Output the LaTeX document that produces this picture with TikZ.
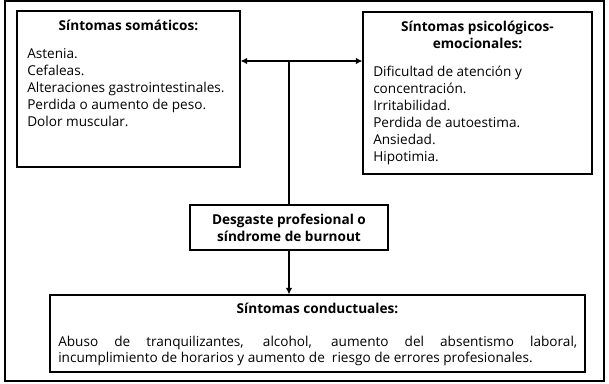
\documentclass[tikz,border=0pt]{standalone}
\usepackage{fontspec}
\setmainfont{Open Sans}
\usetikzlibrary{arrows.meta}
\begin{document}
\begin{tikzpicture}[x=0.75pt,y=-0.75pt,
  box/.style={draw,line width=0.8pt,inner sep=0pt},
  txt/.style={inner sep=0pt,font=\fontsize{10.2}{12.8}\selectfont},
  ttl/.style={inner sep=0pt,font=\fontsize{10.2}{12.8}\selectfont\bfseries,align=center},
  conn/.style={line width=1.5pt},
  tip/.style={-{Latex[length=5pt,width=5pt]}}]
\useasboundingbox (0,0) rectangle (609,384);
\node[box,minimum width=599pt*0.75,minimum height=380pt*0.75] (frame) at (304.5,191) {};
\node[box,minimum width=223pt*0.75,minimum height=156pt*0.75] (L) at (128.5,89) {};
\node[box,minimum width=229pt*0.75,minimum height=162pt*0.75] (R) at (477.5,93) {};
\node[box,minimum width=198pt*0.75,minimum height=45pt*0.75] (C) at (289,227.5) {};
\node[box,minimum width=535pt*0.75,minimum height=77pt*0.75] (B) at (317.5,333.5) {};
% texts
\node[ttl] (Lt) at (128.5,25) {Síntomas somáticos:};
\node[txt,anchor=north west,align=left] (Lx) at (27,48) {Astenia.\\Cefaleas.\\Alteraciones gastrointestinales.\\Perdida o aumento de peso.\\Dolor muscular.};
\node[ttl] (Rt) at (477.5,34.5) {Síntomas psicológicos-\\emocionales:};
\node[txt,anchor=north west,align=left] (Rx) at (373,65.5) {Dificultad de atención y\\concentración.\\Irritabilidad.\\Perdida de autoestima.\\Ansiedad.\\Hipotimia.};
\node[ttl] (Ct) at (289,227.5) {Desgaste profesional o\\síndrome de burnout};
\node[ttl] (Bt) at (317.5,308) {Síntomas conductuales:};
\node[txt,anchor=north west,text width=519pt*0.75,align=justify,font=\fontsize{10.2}{12}\selectfont] (Bx) at (58,335.5) {Abuso de tranquilizantes, alcohol, aumento del absentismo laboral,\linebreak incumplimiento de horarios y aumento de\ \ riesgo de errores profesionales.};
% connectors
\coordinate (J) at (289,61);
\draw[conn] (C.north) -- (J);
\draw[conn,tip] (J) -- (L.east |- J);
\draw[conn,tip] (J) -- (R.west |- J);
\draw[conn,tip] (C.south) -- (C.south |- B.north);
\end{tikzpicture}
\end{document}
